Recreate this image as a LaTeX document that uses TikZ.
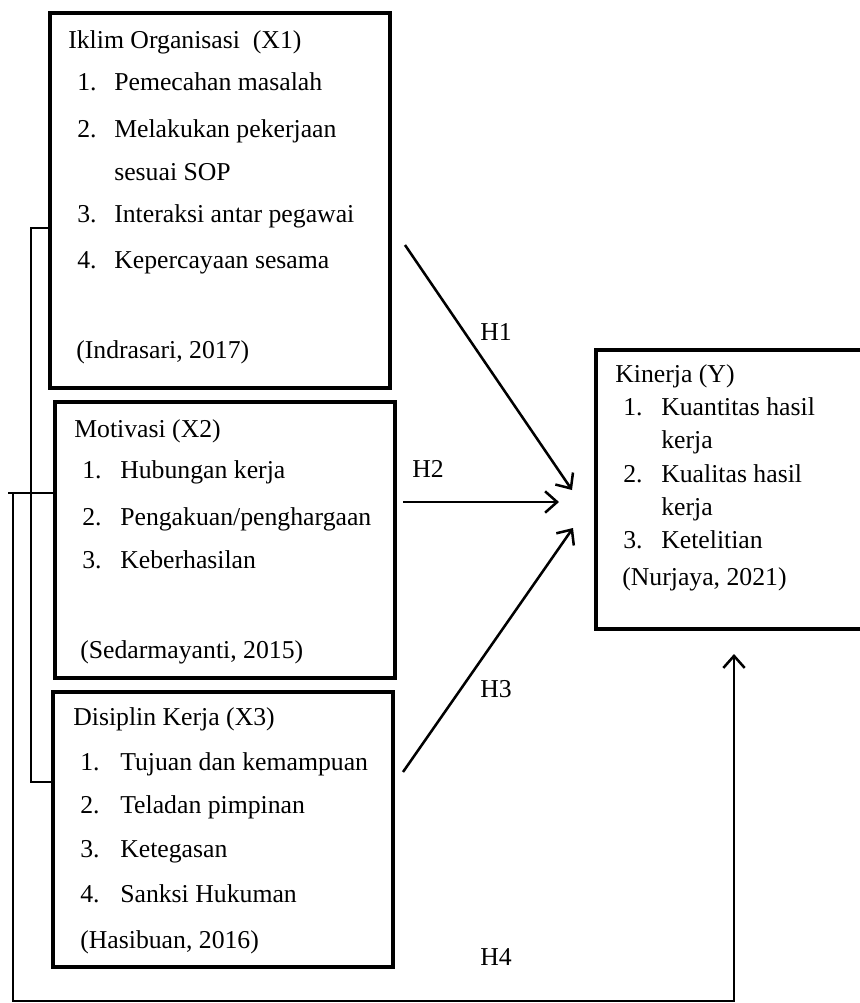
\documentclass[tikz,border=0pt]{standalone}
\usepackage{fontspec}
\setmainfont{Liberation Serif}
\usetikzlibrary{arrows.meta,fit}
\begin{document}
\begin{tikzpicture}[x=0.75pt,y=-0.75pt,
  box/.style={draw,line width=2.8pt,inner sep=0pt,rectangle},
  txt/.style={anchor=base west,inner sep=0pt,font=\fontsize{19.3pt}{23pt}\selectfont},
  conn/.style={line width=1.9pt},
  arr/.style={line width=1.9pt,-{Straight Barb[length=9pt,width=16pt,line width=1.9pt]}}]
\clip (0,0) rectangle (860,1003);
\fill[white] (0,0) rectangle (860,1003);
% boxes
\node[box,fit={(50,13) (390,388)}] (x1) {};
\node[box,fit={(55,402) (395,678)}] (x2) {};
\node[box,fit={(53,692) (393,967)}] (x3) {};
\node[box,fit={(596,350) (880,629)}] (y) {};
% X1 text
\node[txt] (x1t) at (68,48) {Iklim Organisasi\ \ (X1)};
\node[txt] (x1n1) at (77,90) {1.};
\node[txt] (x1i1) at (114,90) {Pemecahan masalah};
\node[txt] (x1n2) at (77,137) {2.};
\node[txt] (x1i2) at (114,137) {Melakukan pekerjaan};
\node[txt] (x1i2b) at (114,180) {sesuai SOP};
\node[txt] (x1n3) at (77,222) {3.};
\node[txt] (x1i3) at (114,222) {Interaksi antar pegawai};
\node[txt] (x1n4) at (77,268) {4.};
\node[txt] (x1i4) at (114,268) {Kepercayaan sesama};
\node[txt] (x1c) at (76,358) {(Indrasari, 2017)};
% X2 text
\node[txt] (x2t) at (74,437) {Motivasi (X2)};
\node[txt] (x2n1) at (82,478) {1.};
\node[txt] (x2i1) at (120,478) {Hubungan kerja};
\node[txt] (x2n2) at (82,525) {2.};
\node[txt] (x2i2) at (120,525) {Pengakuan/penghargaan};
\node[txt] (x2n3) at (82,568) {3.};
\node[txt] (x2i3) at (120,568) {Keberhasilan};
\node[txt] (x2c) at (80,658) {(Sedarmayanti, 2015)};
% X3 text
\node[txt] (x3t) at (73,725) {Disiplin Kerja (X3)};
\node[txt] (x3n1) at (80,770) {1.};
\node[txt] (x3i1) at (120,770) {Tujuan dan kemampuan};
\node[txt] (x3n2) at (80,813) {2.};
\node[txt] (x3i2) at (120,813) {Teladan pimpinan};
\node[txt] (x3n3) at (80,857) {3.};
\node[txt] (x3i3) at (120,857) {Ketegasan};
\node[txt] (x3n4) at (80,902) {4.};
\node[txt] (x3i4) at (120,902) {Sanksi Hukuman};
\node[txt] (x3c) at (80,948) {(Hasibuan, 2016)};
% Y text
\node[txt] (yt) at (615,382) {Kinerja (Y)};
\node[txt] (yn1) at (623,415) {1.};
\node[txt] (yi1) at (661,415) {Kuantitas hasil};
\node[txt] (yi1b) at (661,448) {kerja};
\node[txt] (yn2) at (623,482) {2.};
\node[txt] (yi2) at (661,482) {Kualitas hasil};
\node[txt] (yi2b) at (661,515) {kerja};
\node[txt] (yn3) at (623,548) {3.};
\node[txt] (yi3) at (661,548) {Ketelitian};
\node[txt] (yc) at (622,585) {(Nurjaya, 2021)};
% hypothesis labels
\node[txt] (h1) at (480,340) {H1};
\node[txt] (h2) at (412,477) {H2};
\node[txt] (h3) at (480,697) {H3};
\node[txt] (h4) at (480,965) {H4};
% connector endpoints
\coordinate (a1s) at (405,245);
\coordinate (a1e) at (572,490);
\coordinate (a2s) at (403,502);
\coordinate (a2e) at (559,502);
\coordinate (a3s) at (403,772);
\coordinate (a3e) at (573,528);
\coordinate (a4e) at (734,654);
\coordinate (stub) at (8,493);
% arrows
\draw[arr] (a1s) -- (a1e);
\draw[arr] (a2s) -- (a2e);
\draw[arr] (a3s) -- (a3e);
% bracket X1-X3
\draw[conn] (x1.west |- 0,228) -- (31,228) -- (31,782) -- (x3.west |- 0,782);
% H4 path
\draw[conn] (x2.west |- 0,493) -- (stub);
\draw[arr] (13,493) -- (13,1001) -- (734,1001) -- (a4e);
\end{tikzpicture}
\end{document}
